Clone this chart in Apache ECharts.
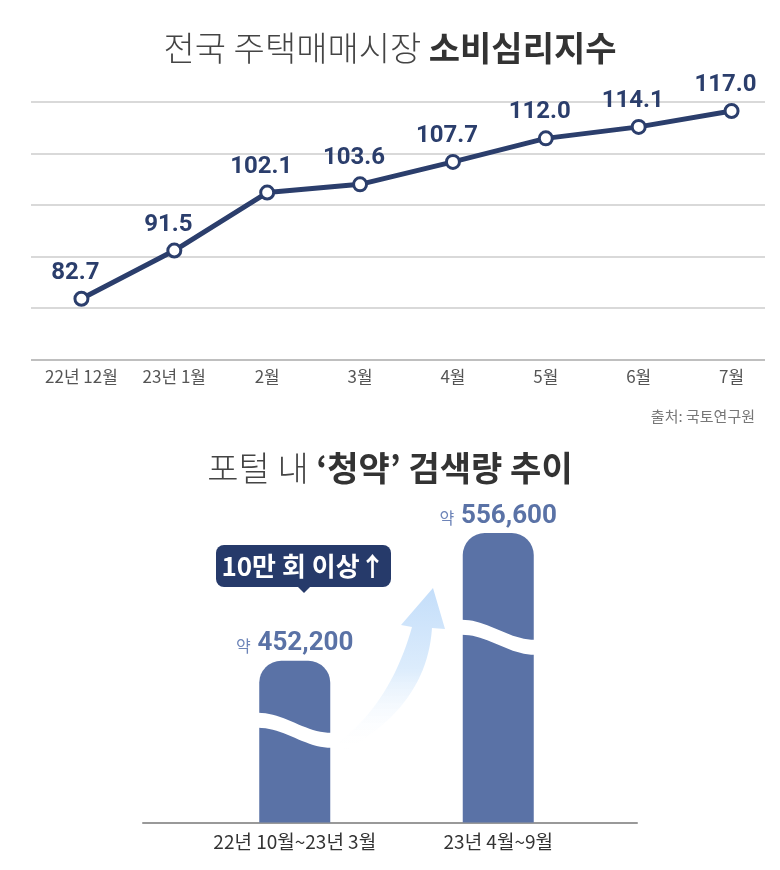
<!DOCTYPE html>
<html>
<head>
<meta charset="utf-8">
<script src="https://cdn.jsdelivr.net/npm/echarts@6/dist/echarts.min.js"></script>
<style>
  html, body { margin: 0; padding: 0; background: #fff; }
  #main { width: 780px; height: 870px; }
</style>
</head>
<body>
<div id="main"></div>
<script>
// 소비심리지수 (top line chart)
const months = ['22년 12월', '23년 1월', '2월', '3월', '4월', '5월', '6월', '7월'];
const sentiment = [82.7, 91.5, 102.1, 103.6, 107.7, 112.0, 114.1, 117.0];

// 청약 검색량 (bottom bar chart)
const periods = ['22년 10월~23년 3월', '23년 4월~9월'];
const searches = [452200, 556600];

const NAVY = '#2b3e6c';
const BAR = '#5a72a6';
const FONT = '"Noto Sans CJK KR", "Noto Sans", sans-serif';
const NUM_FONT = 'Roboto, "Noto Sans", sans-serif';

// where the white break wave sits, as a share of each bar's height
const waveFrac = [0.57, 0.64];

const chart = echarts.init(document.getElementById('main'));

function waveItem(params, api) {
    const i = params.dataIndex;
    const top = api.coord([i, api.value(1)]);
    const bottom = api.coord([i, 320000]);
    const w = 73;
    const x0 = top[0] - w / 2, x1 = top[0] + w / 2;
    const cy = bottom[1] - waveFrac[i] * (bottom[1] - top[1]);
    const yl = cy - 10, yr = cy + 10, half = 7.5;
    const upper = [], lower = [];
    for (let k = 0; k <= 20; k++) {
        const t = k / 20;
        const x = x0 + (x1 - x0) * t;
        const y = yl + (yr - yl) * (1 - Math.cos(Math.PI * t)) / 2;
        upper.push([x, y - half]);
        lower.unshift([x, y + half]);
    }
    return {
        type: 'polygon',
        shape: { points: upper.concat(lower) },
        style: { fill: '#ffffff' }
    };
}

// quadratic curve sampled into points (for the curved arrow outline)
function quad(p0, c, p1, n) {
    const pts = [];
    for (let k = 0; k <= n; k++) {
        const t = k / n, u = 1 - t;
        pts.push([u * u * p0[0] + 2 * u * t * c[0] + t * t * p1[0],
                  u * u * p0[1] + 2 * u * t * c[1] + t * t * p1[1]]);
    }
    return pts;
}
const arrowPts = quad([412, 627], [390, 705], [336, 744], 24)
    .concat(quad([346, 750], [427, 705], [432, 628], 24))
    .concat([[445, 629], [433, 588], [401, 625]]);

const option = {
    animation: false,
    title: [
        {
            text: '{a|전국 주택매매시장 }{b|소비심리지수}',
            left: 'center',
            top: 26,
            textStyle: {
                rich: {
                    a: { fontFamily: FONT, fontSize: 34, fontWeight: 300, color: '#444' },
                    b: { fontFamily: FONT, fontSize: 34, fontWeight: 'bold', color: '#333' }
                }
            }
        },
        {
            text: '{a|포털 내 }{b|‘청약’ 검색량 추이}',
            left: 'center',
            top: 446,
            textStyle: {
                rich: {
                    a: { fontFamily: FONT, fontSize: 34, fontWeight: 300, color: '#444' },
                    b: { fontFamily: FONT, fontSize: 34, fontWeight: 'bold', color: '#333' }
                }
            }
        },
        {
            text: '출처: 국토연구원',
            right: 20,
            top: 404,
            textStyle: { fontFamily: FONT, fontSize: 15, fontWeight: 'normal', color: '#777' }
        }
    ],
    grid: [
        // 0: gridlines only
        { left: 31, right: 15, top: 101.7, bottom: 870 - 359.5 },
        // 1: line chart
        { left: 35, right: 2, top: 101.7, bottom: 870 - 359.5 },
        // 2: bars
        { left: 193, right: 180, top: 480, bottom: 47.5 },
        // 3: bottom baseline
        { left: 143, right: 143, top: 480, bottom: 47.5 }
    ],
    xAxis: [
        {
            gridIndex: 0, type: 'value', min: 0, max: 1,
            axisLine: { show: false }, axisTick: { show: false },
            axisLabel: { show: false }, splitLine: { show: false }
        },
        {
            gridIndex: 1, type: 'category', data: months, boundaryGap: true,
            axisLine: { show: false }, axisTick: { show: false },
            axisLabel: { interval: 0, fontFamily: FONT, fontSize: 17, color: '#555', margin: 9 }
        },
        {
            gridIndex: 2, type: 'category', data: periods,
            axisLine: { show: false }, axisTick: { show: false },
            axisLabel: { interval: 0, fontFamily: FONT, fontSize: 19, color: '#333', margin: 10 }
        },
        {
            gridIndex: 3, type: 'value', min: 0, max: 1,
            axisLine: { show: true, lineStyle: { color: '#999', width: 2 } },
            axisTick: { show: false }, axisLabel: { show: false }, splitLine: { show: false }
        }
    ],
    yAxis: [
        {
            gridIndex: 0, type: 'value', min: 0, max: 5, interval: 1,
            axisLine: { show: false }, axisTick: { show: false }, axisLabel: { show: false },
            splitLine: {
                show: true,
                lineStyle: { color: ['#aaa', '#ccc', '#ccc', '#ccc', '#ccc', '#ccc'], width: 1.5 }
            }
        },
        {
            gridIndex: 1, type: 'value', min: 71.6, max: 118.7,
            show: false
        },
        {
            gridIndex: 2, type: 'value', min: 320000, max: 600000,
            show: false
        },
        {
            gridIndex: 3, type: 'value', min: 0, max: 1,
            show: false
        }
    ],
    series: [
        {
            type: 'line',
            xAxisIndex: 1,
            yAxisIndex: 1,
            data: sentiment,
            symbol: 'circle',
            symbolSize: 13,
            lineStyle: { color: NAVY, width: 5 },
            itemStyle: { color: '#fff', borderColor: NAVY, borderWidth: 3 },
            label: {
                show: true,
                position: 'top',
                distance: 6,
                offset: [-6, 0],
                fontFamily: NUM_FONT,
                fontSize: 24,
                fontWeight: 'bold',
                color: NAVY,
                formatter: p => p.value.toFixed(1)
            },
            z: 3
        },
        {
            type: 'bar',
            xAxisIndex: 2,
            yAxisIndex: 2,
            data: searches,
            barWidth: 71,
            itemStyle: { color: BAR, borderRadius: [22, 22, 0, 0] },
            label: {
                show: true,
                position: 'top',
                distance: 4,
                formatter: p => '{a|약}  {b|' + p.value.toLocaleString('en-US') + '}',
                rich: {
                    a: { fontFamily: FONT, fontSize: 16, color: '#6d84b8', padding: [4, 0, 0, 0] },
                    b: { fontFamily: NUM_FONT, fontSize: 26, fontWeight: 'bold', color: BAR }
                }
            }
        },
        {
            type: 'custom',
            xAxisIndex: 2,
            yAxisIndex: 2,
            data: searches.map((v, i) => [i, v]),
            renderItem: waveItem,
            z: 5,
            silent: true
        }
    ],
    graphic: [
        // rising arrow between the bars
        {
            type: 'polygon',
            shape: { points: arrowPts },
            style: {
                fill: new echarts.graphic.LinearGradient(0, 0, 0, 1, [
                    { offset: 0, color: '#c4defa' },
                    { offset: 0.5, color: '#dcecfc' },
                    { offset: 1, color: 'rgba(255,255,255,0)' }
                ])
            },
            z: 1
        },
        // callout box
        {
            type: 'group',
            left: 216,
            top: 545,
            children: [
                {
                    type: 'rect',
                    shape: { x: 0, y: 0, width: 175, height: 42, r: 8 },
                    style: { fill: '#263a6a' }
                },
                {
                    type: 'polygon',
                    shape: { points: [[81, 41], [95, 41], [88, 48]] },
                    style: { fill: '#263a6a' }
                },
                {
                    type: 'text',
                    x: 87.5,
                    y: 21,
                    style: {
                        text: '10만 회 이상↑',
                        fill: '#fff',
                        font: 'bold 26px ' + FONT,
                        textAlign: 'center',
                        textVerticalAlign: 'middle'
                    }
                }
            ]
        }
    ]
};

chart.setOption(option);
</script>
</body>
</html>
